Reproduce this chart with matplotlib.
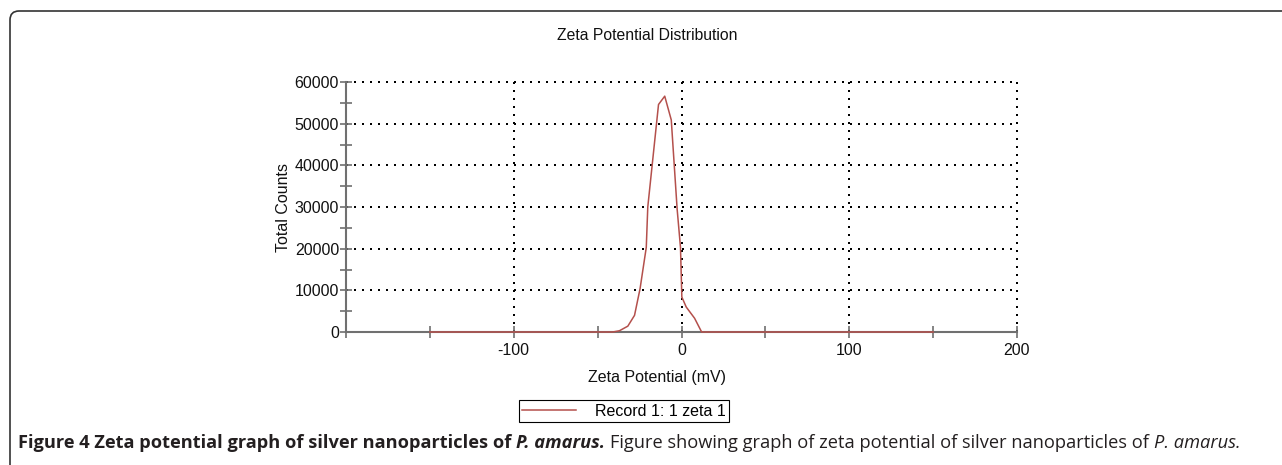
import matplotlib
matplotlib.use('Agg')
import matplotlib.pyplot as plt
import matplotlib.patches as mpatches
from matplotlib.transforms import IdentityTransform
from matplotlib.ticker import MultipleLocator

# data
zeta_mv = [-150, -41, -37, -32, -28, -24.7, -21, -20.1, -13.7, -10, -6.1,
           -2.6, -0.6, 0.2, 2.8, 7.8, 12, 150]
total_counts = [0, 0, 300, 1400, 4000, 10400, 20300, 30000, 54600, 56600, 50900,
                29500, 20300, 8400, 6000, 3300, 0, 0]
x_ticks = [-100, 0, 100, 200]
y_ticks = [0, 10000, 20000, 30000, 40000, 50000, 60000]
series_name = 'Record 1: 1 zeta 1'

W, H = 1282, 465
plt.rcParams['font.family'] = ['Liberation Sans', 'DejaVu Sans']
plt.rcParams['axes.unicode_minus'] = False

fig = plt.figure(figsize=(W / 100, H / 100), dpi=100)
fig.patch.set_facecolor('white')

# axes box in pixels: x 346..1017, y 82..332
ax = fig.add_axes([346 / W, 1 - 332 / H, (1017 - 346) / W, (332 - 82) / H])
ax.plot(zeta_mv, total_counts, color='#b4504c', lw=1.1, label=series_name,
        zorder=4, clip_on=False)

ax.set_xlim(-200, 200)
ax.set_ylim(0, 60000)
ax.set_xticks(x_ticks)
ax.set_yticks(y_ticks)
ax.xaxis.set_minor_locator(MultipleLocator(50))
ax.yaxis.set_minor_locator(MultipleLocator(5000))
ax.tick_params(which='both', direction='inout', length=8, width=1.2,
               color='#707070', labelsize=11.5, labelcolor='#111111')
ax.tick_params(axis='x', pad=4)
ax.tick_params(axis='y', pad=1)

for s in ['top', 'right']:
    ax.spines[s].set_visible(False)
for s in ['left', 'bottom']:
    ax.spines[s].set_color('#707070')
    ax.spines[s].set_linewidth(1.5)

ax.grid(True, which='major', color='black', lw=1.44, linestyle=(0, (1, 3)))
for gl in ax.get_xgridlines() + ax.get_ygridlines():
    gl.set_clip_on(False)

fig.text(647 / W, 1 - 35 / H, 'Zeta Potential Distribution', ha='center',
         va='center', fontsize=11.3, color='#111111')
fig.text(657 / W, 1 - 377 / H, 'Zeta Potential (mV)', ha='center',
         va='center', fontsize=11.5, color='#111111')
fig.text(283 / W, 1 - 207 / H, 'Total Counts', ha='center', va='center',
         rotation=90, fontsize=11.5, color='#111111')

leg = fig.legend(loc='center', bbox_to_anchor=(624 / W, 1 - 411 / H),
                 fontsize=11.5, fancybox=False, framealpha=1, handlelength=3.4,
                 borderpad=0.2, handletextpad=1.2, borderaxespad=0)
leg.get_frame().set_edgecolor('black')
leg.get_frame().set_linewidth(0.8)

# rounded panel border, only top-left corner visible
border = mpatches.FancyBboxPatch((10, -20), W + 40, H - 11 + 20,
                                 boxstyle='round,pad=0,rounding_size=9',
                                 transform=IdentityTransform(), fill=False,
                                 edgecolor='#333333', lw=1.2)
fig.patches.append(border)

# caption: pieces drawn one after another, scaled to the reference width
caption = [
    ('Figure 4 Zeta potential graph of silver nanoparticles of', 'bold', 'normal', True),
    ('P. amarus.', 'bold', 'italic', True),
    ('Figure showing graph of zeta potential of silver nanoparticles of', 'normal', 'normal', True),
    ('P. amarus.', 'normal', 'italic', False),
]
cap_fam = ['Open Sans', 'DejaVu Sans']
x0, x1, yc = 18, 1240, 443
renderer = fig.canvas.get_renderer()


def draw_caption(size):
    items = []
    x = x0
    for text, weight, style, gap in caption:
        t = fig.text(x / W, 1 - yc / H, text, ha='left', va='center',
                     fontsize=size, fontweight=weight, fontstyle=style,
                     family=cap_fam, color='#231f20')
        bb = t.get_window_extent(renderer)
        x = bb.x1
        if gap:
            sp = fig.text(0, 0, 'a a', fontsize=size, fontweight=weight, family=cap_fam)
            nn = fig.text(0, 0, 'aa', fontsize=size, fontweight=weight, family=cap_fam)
            x += sp.get_window_extent(renderer).width - nn.get_window_extent(renderer).width
            sp.remove()
            nn.remove()
        items.append(t)
    return items, x


size = 12
items, end = draw_caption(size)
for t in items:
    t.remove()
size = size * (x1 - x0) / (end - x0)
draw_caption(size)

fig.savefig('out.png', dpi=100, facecolor='white')
